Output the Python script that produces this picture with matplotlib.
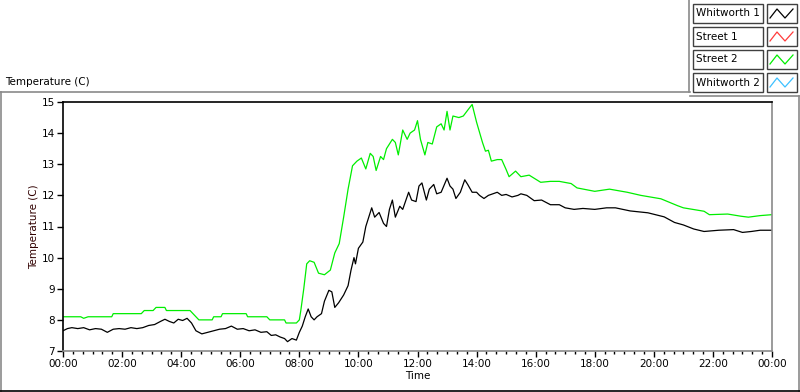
import matplotlib
matplotlib.use('Agg')
import matplotlib.pyplot as plt
from matplotlib.lines import Line2D
from matplotlib.patches import Rectangle
from matplotlib.ticker import MultipleLocator, FuncFormatter

# Данные (часы от полуночи, температура)
whitworth1_h = [0.0, 0.15, 0.3, 0.5, 0.7, 0.9, 1.1, 1.3, 1.5, 1.7, 1.9, 2.1, 2.3, 2.5, 2.7, 2.9,
                3.1, 3.3, 3.45, 3.6, 3.75, 3.9, 4.05, 4.2, 4.35, 4.5, 4.7, 4.9, 5.1, 5.3, 5.5, 5.7,
                5.9, 6.1, 6.3, 6.5, 6.7, 6.9, 7.05, 7.2, 7.35, 7.5, 7.6, 7.75, 7.9, 8.0, 8.1, 8.2,
                8.3, 8.4, 8.5, 8.6, 8.75, 8.85, 9.0, 9.1, 9.2, 9.33, 9.5, 9.65, 9.75, 9.85, 9.9,
                10.0, 10.15, 10.25, 10.35, 10.45, 10.55, 10.7, 10.85, 10.95, 11.05, 11.15, 11.25,
                11.4, 11.5, 11.7, 11.8, 11.95, 12.05, 12.15, 12.3, 12.4, 12.55, 12.65, 12.8, 13.0,
                13.1, 13.2, 13.3, 13.45, 13.6, 13.7, 13.85, 14.0, 14.1, 14.25, 14.4, 14.55, 14.7,
                14.85, 15.0, 15.2, 15.4, 15.5, 15.7, 15.95, 16.2, 16.5, 16.8, 17.0, 17.3, 17.6,
                18.0, 18.4, 18.7, 19.2, 19.8, 20.35, 20.7, 21.0, 21.35, 21.7, 22.2, 22.7, 23.0,
                23.3, 23.6, 24.0]
whitworth1_t = [7.65, 7.72, 7.75, 7.72, 7.75, 7.68, 7.72, 7.7, 7.6, 7.7, 7.72, 7.7, 7.75, 7.72, 7.75, 7.82,
                7.85, 7.95, 8.02, 7.95, 7.9, 8.02, 7.98, 8.05, 7.9, 7.65, 7.55, 7.6, 7.65, 7.7, 7.72, 7.8,
                7.7, 7.72, 7.65, 7.68, 7.6, 7.62, 7.5, 7.52, 7.45, 7.4, 7.3, 7.4, 7.35, 7.6, 7.8, 8.1,
                8.35, 8.1, 8.0, 8.1, 8.2, 8.6, 8.95, 8.9, 8.4, 8.55, 8.8, 9.1, 9.6, 10.0, 9.8,
                10.3, 10.5, 11.0, 11.3, 11.6, 11.3, 11.45, 11.1, 11.0, 11.55, 11.85, 11.3,
                11.65, 11.55, 12.1, 11.85, 11.8, 12.3, 12.4, 11.85, 12.2, 12.35, 12.05, 12.1, 12.55,
                12.3, 12.2, 11.9, 12.1, 12.5, 12.35, 12.1, 12.1, 12.0, 11.9, 12.0, 12.05, 12.1,
                12.0, 12.03, 11.95, 12.0, 12.05, 12.0, 11.83, 11.85, 11.7, 11.7, 11.6, 11.55, 11.58,
                11.55, 11.6, 11.6, 11.5, 11.44, 11.31, 11.13, 11.05, 10.92, 10.84, 10.88, 10.9, 10.81,
                10.84, 10.88, 10.88]

street2_h = [0.0, 0.6, 0.7, 0.85, 1.65, 1.7, 2.65, 2.75, 3.05, 3.15, 3.45, 3.5, 4.3, 4.45, 4.6, 5.05,
             5.1, 5.35, 5.4, 6.2, 6.25, 6.9, 7.0, 7.5, 7.55, 7.9, 8.0, 8.05, 8.15, 8.25, 8.35, 8.5,
             8.65, 8.85, 9.05, 9.2, 9.35, 9.5, 9.65, 9.8, 9.95, 10.1, 10.25, 10.4, 10.5, 10.6, 10.75,
             10.85, 10.95, 11.15, 11.25, 11.35, 11.5, 11.65, 11.75, 11.9, 12.0, 12.1, 12.25, 12.35,
             12.5, 12.65, 12.8, 12.9, 13.0, 13.1, 13.2, 13.4, 13.55, 13.75, 13.85, 14.0, 14.2, 14.3,
             14.4, 14.5, 14.7, 14.85, 15.0, 15.1, 15.32, 15.5, 15.78, 16.17, 16.5, 16.8, 17.2, 17.4,
             18.0, 18.5, 19.1, 19.56, 20.24, 20.8, 21.0, 21.7, 21.88, 22.5, 22.95, 23.2, 23.6, 24.0]
street2_t = [8.1, 8.1, 8.05, 8.1, 8.1, 8.2, 8.2, 8.3, 8.3, 8.4, 8.4, 8.3, 8.3, 8.15, 8.0, 8.0,
             8.1, 8.1, 8.2, 8.2, 8.1, 8.1, 8.0, 8.0, 7.9, 7.9, 8.0, 8.3, 9.0, 9.8, 9.9, 9.85,
             9.5, 9.45, 9.6, 10.15, 10.45, 11.3, 12.2, 12.95, 13.1, 13.2, 12.85, 13.35, 13.25, 12.8, 13.25,
             13.15, 13.5, 13.8, 13.7, 13.3, 14.1, 13.8, 14.0, 14.1, 14.4, 13.8, 13.3, 13.7,
             13.65, 14.2, 14.3, 14.1, 14.7, 14.1, 14.55, 14.5, 14.55, 14.8, 14.92, 14.35, 13.7, 13.42,
             13.45, 13.1, 13.15, 13.15, 12.83, 12.6, 12.78, 12.6, 12.65, 12.42, 12.45, 12.45, 12.38, 12.24,
             12.13, 12.2, 12.1, 12.0, 11.89, 11.67, 11.6, 11.49, 11.38, 11.4, 11.33, 11.3, 11.35, 11.38]

# Эти каналы в легенде есть, но на графике не видны
street1_h, street1_t = [], []
whitworth2_h, whitworth2_t = [], []

series_names = ['Whitworth 1', 'Street 1', 'Street 2', 'Whitworth 2']
series_colors = ['black', '#ff3b3b', '#00ee00', '#3cc0ff']

W, H = 800, 392
fig = plt.figure(figsize=(W / 100, H / 100), dpi=100)
plt.rcParams['font.family'] = 'DejaVu Sans'


def fx(x):
    return x / W


def fy(y):
    return 1 - y / H


ax = fig.add_axes([fx(63), fy(351), fx(772) - fx(63), fy(102) - fy(351)])
ax.plot(street1_h, street1_t, color=series_colors[1], lw=0.9)
ax.plot(whitworth2_h, whitworth2_t, color=series_colors[3], lw=0.9)
ax.plot(street2_h, street2_t, color=series_colors[2], lw=0.9)
ax.plot(whitworth1_h, whitworth1_t, color=series_colors[0], lw=0.9)

ax.set_xlim(0, 24)
ax.set_ylim(7, 15)
ax.xaxis.set_major_locator(MultipleLocator(2))
ax.xaxis.set_minor_locator(MultipleLocator(1 / 3))
ax.xaxis.set_major_formatter(FuncFormatter(lambda v, p: '%02d:00' % (int(round(v)) % 24)))
ax.yaxis.set_major_locator(MultipleLocator(1))
ax.tick_params(axis='both', which='major', length=4, width=1, direction='out', labelsize=7.5,
               pad=2, colors='black')
ax.tick_params(axis='x', which='minor', length=2.5, width=1, direction='out')
for s in ['top', 'left']:
    ax.spines[s].set_color('black')
    ax.spines[s].set_linewidth(1.2)
for s in ['right', 'bottom']:
    ax.spines[s].set_color('#8a8a8a')
    ax.spines[s].set_linewidth(1.2)
ax.set_xlabel('Time', fontsize=7.5, labelpad=1)
ax.set_ylabel('Temperature (C)', fontsize=7.5, color='#300000', labelpad=2)

# Рамка панели
gray = '#8a8a8a'
fig.add_artist(Line2D([fx(0), fx(690)], [fy(92), fy(92)], color=gray, lw=1.2))
fig.add_artist(Line2D([fx(690), fx(799)], [fy(96), fy(96)], color=gray, lw=1.2))
fig.add_artist(Line2D([fx(1), fx(1)], [fy(92), fy(392)], color=gray, lw=1.2))
fig.add_artist(Line2D([fx(799), fx(799)], [fy(96), fy(392)], color=gray, lw=1.2))
fig.add_artist(Line2D([fx(0), fx(800)], [fy(391), fy(391)], color='black', lw=1.2))
fig.add_artist(Line2D([fx(689), fx(689)], [fy(0), fy(92)], color=gray, lw=1.2))

fig.text(fx(5), fy(82), 'Temperature (C)', fontsize=7.5, va='center', ha='left')

# Легенда
for i, (name, col) in enumerate(zip(series_names, series_colors)):
    top = 4 + i * 23
    fig.add_artist(Rectangle((fx(693), fy(top + 19)), fx(70), fy(top) - fy(top + 19),
                             transform=fig.transFigure, facecolor='white', edgecolor='#404040', lw=1))
    fig.text(fx(696), fy(top + 9.5), name, fontsize=7.5, va='center', ha='left')
    fig.add_artist(Rectangle((fx(767), fy(top + 19)), fx(30), fy(top) - fy(top + 19),
                             transform=fig.transFigure, facecolor='white', edgecolor='#404040', lw=1))
    zx = [770, 777, 785, 793]
    zy = [top + 14, top + 5, top + 14, top + 5]
    fig.add_artist(Line2D([fx(v) for v in zx], [fy(v) for v in zy], color=col, lw=0.9))

plt.savefig('out.png', dpi=100)
